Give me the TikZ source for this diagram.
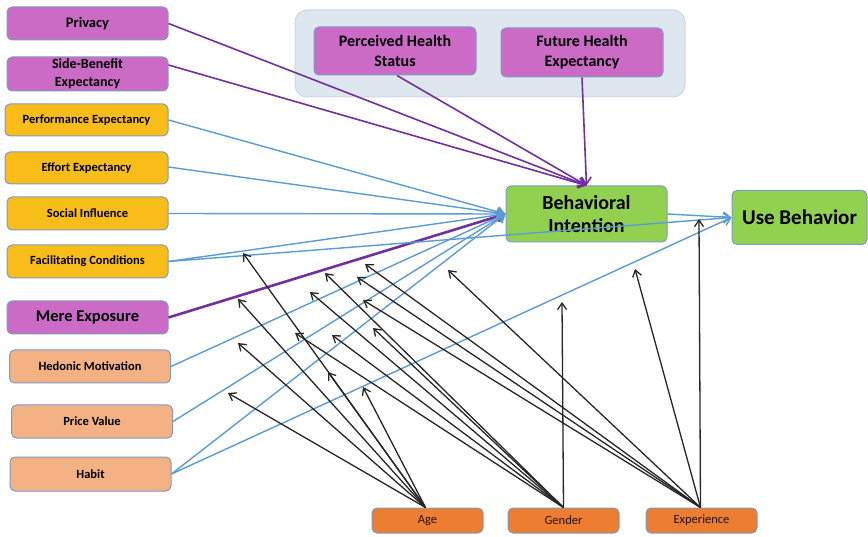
\documentclass[tikz,border=0pt]{standalone}
\usepackage{fontspec}
\setmainfont{Carlito}
\usetikzlibrary{arrows.meta}

\definecolor{pinkbox}{HTML}{CB6BC6}
\definecolor{goldbox}{HTML}{F8BD19}
\definecolor{peachbox}{HTML}{F4B183}
\definecolor{greenbox}{HTML}{92D050}
\definecolor{orangebox}{HTML}{ED7D31}
\definecolor{boxline}{HTML}{7C9CC4}
\definecolor{groupfill}{HTML}{DEE6F0}
\definecolor{groupline}{HTML}{CCD8E6}
\definecolor{bluelink}{HTML}{5B9BD5}
\definecolor{purplelink}{HTML}{7030A0}

\tikzset{
  box/.style={draw=boxline, line width=1pt, rounded corners=5pt, align=center,
    inner sep=1pt, text=black},
  leftbox/.style={box, minimum width=161pt, minimum height=33pt,
    font=\bfseries\fontsize{12.5}{14}\selectfont},
  modbox/.style={box, fill=orangebox, minimum width=111pt, minimum height=25pt,
    font=\fontsize{12.5}{14}\selectfont, text=black!85!orangebox},
  bluearrow/.style={draw=bluelink, line width=1.4pt, -{Straight Barb[length=7pt,width=10pt]}},
  purplearrow/.style={draw=purplelink, line width=1.6pt, -{Straight Barb[length=7pt,width=10pt]}},
  modarrow/.style={draw=black!85, line width=1.3pt, -{Straight Barb[length=6.5pt,width=9pt]}},
}

\begin{document}
\begin{tikzpicture}[x=1pt,y=-1pt]
\useasboundingbox (0,0) rectangle (868,537);

% health group background
\draw[groupline, fill=groupfill, line width=1pt, rounded corners=12pt]
  (295,10) rectangle (685,97);

% predictor boxes
\node[leftbox, fill=pinkbox, font=\bfseries\fontsize{14.5}{16}\selectfont] (priv) at (87.5,23.5) {Privacy};
\node[leftbox, fill=pinkbox, minimum height=34pt, font=\bfseries\fontsize{14}{18}\selectfont] (side) at (87.5,74) {Side-Benefit\\Expectancy};
\node[leftbox, fill=goldbox, minimum width=163pt, minimum height=32pt] (perf) at (86.5,120) {Performance Expectancy};
\node[leftbox, fill=goldbox, minimum width=163pt, minimum height=32pt] (effort) at (86.5,168) {Effort Expectancy};
\node[leftbox, fill=goldbox] (social) at (87.5,213.5) {Social Influence};
\node[leftbox, fill=goldbox] (facil) at (87.5,261.5) {Facilitating Conditions};
\node[leftbox, fill=pinkbox, font=\bfseries\fontsize{16.5}{18}\selectfont] (mere) at (87.5,317.5) {Mere Exposure};
\node[leftbox, fill=peachbox] (hedonic) at (90,366.5) {Hedonic Motivation};
\node[leftbox, fill=peachbox] (price) at (92,421.5) {Price Value};
\node[leftbox, fill=peachbox, minimum height=34pt] (habit) at (90.5,474) {Habit};

% health boxes
\node[box, fill=pinkbox, minimum width=162pt, minimum height=48pt,
  font=\bfseries\fontsize{16}{20}\selectfont] (phs) at (395,51) {Perceived Health\\Status};
\node[box, fill=pinkbox, minimum width=162pt, minimum height=49pt,
  font=\bfseries\fontsize{16}{20}\selectfont] (fhe) at (582,52.5) {Future Health\\Expectancy};

% outcome boxes
\node[box, fill=greenbox, minimum width=161pt, minimum height=56pt,
  font=\bfseries\fontsize{20}{23}\selectfont] (bi) at (586.5,214) {Behavioral\\Intention};
\node[box, fill=greenbox, minimum width=135pt, minimum height=54pt,
  font=\bfseries\fontsize{21}{24}\selectfont] (ub) at (799.5,217.5) {Use Behavior};

% moderator boxes
\node[modbox] (age) at (427.5,520.5) {Age};
\node[modbox] (gender) at (563.5,520.5) {Gender};
\node[modbox] (exper) at (701.5,520.5) {Experience};

% purple paths into behavioral intention
\draw[purplearrow] (priv.east) -- (bi.north);
\draw[purplearrow] ([yshift=9pt]side.east) -- (bi.north);
\draw[purplearrow] ([xshift=2pt]phs.south) -- (bi.north);
\draw[purplearrow] (fhe.south) -- (bi.north);
\draw[purplearrow, line width=2.6pt] (mere.east) -- (bi.west);

% blue paths into behavioral intention
\draw[bluearrow] (perf.east) -- (bi.west);
\draw[bluearrow] ([yshift=1pt]effort.east) -- (bi.west);
\draw[bluearrow] (social.east) -- (bi.west);
\draw[bluearrow] (facil.east) -- (bi.west);
\draw[bluearrow] (hedonic.east) -- (bi.west);
\draw[bluearrow] (price.east) -- (bi.west);
\draw[bluearrow] (habit.east) -- (bi.west);

% blue paths into use behavior
\draw[bluearrow] (bi.east) -- (ub.west);
\draw[bluearrow] (facil.east) -- (ub.west);
\draw[bluearrow] (habit.east) -- (ub.west);

% moderation arrow ends
\coordinate (a1) at (243,253);
\coordinate (a2) at (238,299);
\coordinate (a3) at (238,343);
\coordinate (a4) at (228,393);
\coordinate (a5) at (328,372);
\coordinate (a6) at (363,387);
\coordinate (g1) at (325,273);
\coordinate (g2) at (310,292);
\coordinate (g3) at (295,333);
\coordinate (g4) at (332,335);
\coordinate (g5) at (373,328);
\coordinate (g6) at (562,302);
\coordinate (e1) at (365,264);
\coordinate (e2) at (357,277);
\coordinate (e3) at (363,300);
\coordinate (e4) at (448,270);
\coordinate (e5) at (635,269);
\coordinate (e6) at (699,219);

% moderation arrows
\foreach \t in {a1,a2,a3,a4,a5,a6}
  \draw[modarrow] ([xshift=-2pt]age.north) -- (\t);
\foreach \t in {g1,g2,g3,g4,g5,g6}
  \draw[modarrow] (gender.north) -- (\t);
\foreach \t in {e1,e2,e3,e4,e5,e6}
  \draw[modarrow] ([xshift=-1pt]exper.north) -- (\t);
\end{tikzpicture}
\end{document}
